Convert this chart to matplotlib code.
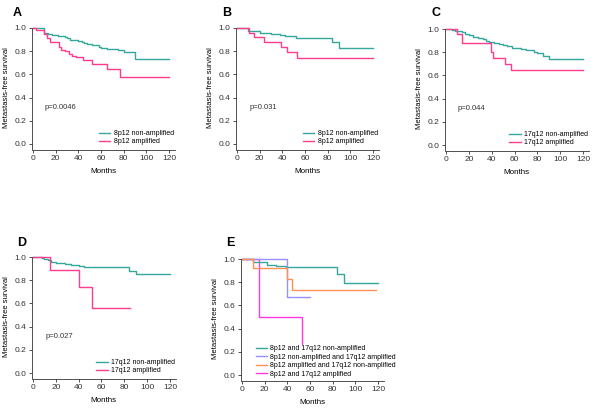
import matplotlib
matplotlib.use('Agg')
import matplotlib.pyplot as plt

plt.rcParams['font.family'] = ['Liberation Sans', 'DejaVu Sans']

TEAL = '#35a89c'
PINK = '#ff3c8e'
PURPLE = '#9590ff'
ORANGE = '#ff8f55'
MAGENTA = '#ff38e0'

# Kaplan-Meier step data: event times (months) and survival after each step
a_non_t = [0, 10, 13, 17, 22, 28, 30, 33, 40, 43, 45, 48, 52, 58, 60, 65, 75, 80, 90, 120]
a_non_s = [1.0, 0.96, 0.95, 0.94, 0.93, 0.92, 0.91, 0.90, 0.89, 0.88, 0.87, 0.86, 0.85, 0.84, 0.83, 0.82, 0.81, 0.79, 0.73, 0.73]
a_amp_t = [0, 3, 10, 12, 15, 23, 25, 28, 32, 34, 38, 44, 52, 65, 77, 120]
a_amp_s = [1.0, 0.98, 0.95, 0.91, 0.88, 0.84, 0.81, 0.80, 0.78, 0.76, 0.75, 0.72, 0.69, 0.65, 0.58, 0.58]

b_non_t = [0, 10, 20, 30, 38, 42, 52, 84, 90, 120]
b_non_s = [1.0, 0.97, 0.96, 0.95, 0.94, 0.93, 0.915, 0.875, 0.825, 0.825]
b_amp_t = [0, 11, 15, 24, 39, 44, 53, 120]
b_amp_s = [1.0, 0.96, 0.92, 0.88, 0.835, 0.79, 0.74, 0.74]

c_non_t = [0, 5, 8, 14, 17, 20, 24, 28, 32, 35, 38, 42, 46, 50, 53, 58, 66, 70, 77, 80, 85, 90, 120]
c_non_s = [1.0, 0.99, 0.98, 0.97, 0.96, 0.95, 0.93, 0.92, 0.91, 0.90, 0.89, 0.88, 0.87, 0.86, 0.85, 0.84, 0.83, 0.82, 0.80, 0.79, 0.77, 0.74, 0.74]
c_amp_t = [0, 10, 14, 39, 41, 52, 57, 120]
c_amp_s = [1.0, 0.96, 0.88, 0.80, 0.75, 0.70, 0.65, 0.65]

d_non_t = [0, 8, 10, 13, 16, 20, 28, 33, 40, 45, 84, 90, 120]
d_non_s = [1.0, 0.99, 0.98, 0.97, 0.96, 0.95, 0.94, 0.93, 0.92, 0.91, 0.88, 0.85, 0.85]
d_amp_t = [0, 15, 40, 52, 85]
d_amp_s = [1.0, 0.89, 0.74, 0.56, 0.56]

e_nn_t = [0, 10, 22, 30, 39, 84, 90, 120]
e_nn_s = [1.0, 0.97, 0.95, 0.94, 0.93, 0.875, 0.79, 0.79]
e_na_t = [0, 40, 60]
e_na_s = [1.0, 0.67, 0.67]
e_an_t = [0, 10, 40, 44, 118]
e_an_s = [1.0, 0.92, 0.83, 0.73, 0.73]
e_aa_t = [0, 15, 53]
e_aa_s = [1.0, 0.5, 0.0]

x_ticks = [0, 20, 40, 60, 80, 100, 120]
y_ticks = [0.0, 0.2, 0.4, 0.6, 0.8, 1.0]

W, H = 600, 408
fig = plt.figure(figsize=(6.0, 4.08), dpi=100)


def make_axes(x0, x120, y0, y1):
    # place axes from pixel positions of x=0, x=120, y=0, y=1
    pxm = (x120 - x0) / 120.0
    pyu = (y0 - y1)
    xmin, xmax = -1, 125
    ymin, ymax = -0.05, 1.03
    left = x0 + xmin * pxm
    right = x0 + xmax * pxm
    top = y1 - (ymax - 1) * pyu
    bottom = y0 - ymin * pyu
    ax = fig.add_axes([left / W, 1 - bottom / H, (right - left) / W, (bottom - top) / H])
    ax.set_xlim(xmin, xmax)
    ax.set_ylim(ymin, ymax)
    for s in ['top', 'right']:
        ax.spines[s].set_visible(False)
    for s in ['left', 'bottom']:
        ax.spines[s].set_linewidth(0.6)
        ax.spines[s].set_color('#333333')
    ax.spines['left'].set_bounds(ymin, 1.0)
    ax.spines['bottom'].set_bounds(0, 125)
    ax.set_xticks(x_ticks)
    ax.set_yticks(y_ticks)
    ax.set_yticklabels(['%.1f' % v for v in y_ticks])
    ax.tick_params(labelsize=6, length=2.5, width=0.6, pad=1.5, colors='#333333')
    ax.set_xlabel('Months', fontsize=5.8, labelpad=4)
    ax.set_ylabel('Metastasis-free survival', fontsize=5.5, labelpad=3)
    return ax


def km(ax, t, s, color, label):
    ax.step(t, s, where='post', color=color, lw=1.0, label=label)


def legend(ax, loc, anchor):
    leg = ax.legend(loc=loc, bbox_to_anchor=anchor, fontsize=5, frameon=True,
                    handlelength=1.6, handletextpad=0.5, labelspacing=0.2,
                    borderpad=0.1, borderaxespad=0)
    leg.get_frame().set_edgecolor('none')
    leg.get_frame().set_facecolor('white')
    leg.get_frame().set_alpha(1)


axA = make_axes(33, 169, 144, 28)
km(axA, a_non_t, a_non_s, TEAL, '8p12 non-amplified')
km(axA, a_amp_t, a_amp_s, PINK, '8p12 amplified')
axA.text(10, 0.3, 'p=0.0046', fontsize=5.5, color='#333333')
legend(axA, 'lower right', (1.0, 0.03))

axB = make_axes(237, 373, 144, 28)
km(axB, b_non_t, b_non_s, TEAL, '8p12 non-amplified')
km(axB, b_amp_t, b_amp_s, PINK, '8p12 amplified')
axB.text(11, 0.3, 'p=0.031', fontsize=5.5, color='#333333')
legend(axB, 'lower right', (1.0, 0.03))

axC = make_axes(446, 583, 145, 29)
km(axC, c_non_t, c_non_s, TEAL, '17q12 non-amplified')
km(axC, c_amp_t, c_amp_s, PINK, '17q12 amplified')
axC.text(10, 0.3, 'p=0.044', fontsize=5.5, color='#333333')
legend(axC, 'lower right', (1.0, 0.03))

axD = make_axes(33, 170, 373, 257)
km(axD, d_non_t, d_non_s, TEAL, '17q12 non-amplified')
km(axD, d_amp_t, d_amp_s, PINK, '17q12 amplified')
axD.text(11, 0.3, 'p=0.027', fontsize=5.5, color='#333333')
legend(axD, 'lower right', (1.0, 0.03))

axE = make_axes(242, 378, 375, 259)
km(axE, e_aa_t, e_aa_s, MAGENTA, '8p12 and 17q12 amplified')
km(axE, e_nn_t, e_nn_s, TEAL, '8p12 and 17q12 non-amplified')
km(axE, e_na_t, e_na_s, PURPLE, '8p12 non-amplified and 17q12 amplified')
km(axE, e_an_t, e_an_s, ORANGE, '8p12 amplified and 17q12 non-amplified')
h, l = axE.get_legend_handles_labels()
order = [1, 2, 3, 0]
leg = axE.legend([h[i] for i in order], [l[i] for i in order], loc='lower left',
                 bbox_to_anchor=(0.1, 0.02), fontsize=5, frameon=True,
                 handlelength=1.6, handletextpad=0.5, labelspacing=0.2,
                 borderpad=0.1, borderaxespad=0)
leg.get_frame().set_edgecolor('none')
leg.get_frame().set_facecolor('white')
leg.get_frame().set_alpha(1)

for lab, x, y in [('A', 13, 16), ('B', 222, 16), ('C', 431, 16), ('D', 17, 246), ('E', 226, 246)]:
    fig.text(x / W, 1 - y / H, lab, fontsize=9, fontweight='bold', ha='left', va='baseline')

fig.savefig('out.png', dpi=100, facecolor='white')
